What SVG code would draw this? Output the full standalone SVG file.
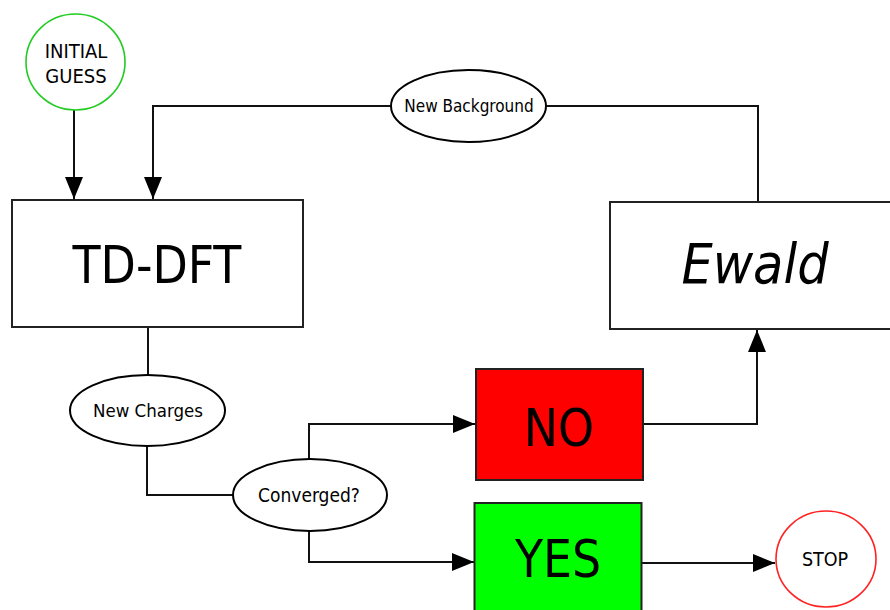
<svg xmlns="http://www.w3.org/2000/svg" width="890" height="610" viewBox="0 0 890 610">
<defs>
<style>
.t{font-family:"DejaVu Sans Condensed","DejaVu Sans",sans-serif;fill:#000;text-anchor:middle}
.s{font-size:17px}
.b{font-size:51px}
.box{stroke:#222;stroke-width:2}
.ell{fill:#fff;stroke:#000;stroke-width:2}
.c{fill:none;stroke:#111;stroke-width:2}
</style>
<marker id="ah" markerUnits="userSpaceOnUse" markerWidth="24" markerHeight="18" viewBox="0 0 24 18" refX="22" refY="9" orient="auto">
<path d="M0,0 L22,9 L0,18 Z" fill="#000"/>
</marker>
</defs>
<rect width="890" height="610" fill="#fff"/>
<g id="connectors">
<path class="c" d="M74,110 V199" marker-end="url(#ah)"/>
<path class="c" d="M391,106 H153 V199" marker-end="url(#ah)"/>
<path class="c" d="M546,106 H758 V201"/>
<path class="c" d="M148,327 V375"/>
<path class="c" d="M147,446 V495 H233"/>
<path class="c" d="M309,459 V424 H475" marker-end="url(#ah)"/>
<path class="c" d="M309,531 V562 H474" marker-end="url(#ah)"/>
<path class="c" d="M643,424 H757 V330" marker-end="url(#ah)"/>
<path class="c" d="M641,563 H775" marker-end="url(#ah)"/>
</g>
<g id="initial">
<ellipse cx="75.5" cy="62" rx="49.5" ry="48" fill="#fff" stroke="#22cc22" stroke-width="1.6"/>
<text class="t" x="76" y="58" font-size="20">INITIAL</text>
<text class="t" x="76" y="83" font-size="20">GUESS</text>
</g>
<g id="tddft">
<rect class="box" x="12" y="200" width="291" height="127" fill="#fff"/>
<text class="t b" x="157" y="283">TD-DFT</text>
</g>
<g id="newbg">
<ellipse class="ell" cx="468.5" cy="106" rx="77.5" ry="36"/>
<text class="t s" x="469" y="112">New Background</text>
</g>
<g id="ewald">
<rect class="box" x="610" y="202" width="290" height="127" fill="#fff"/>
<text class="t" x="755" y="283" font-size="55" font-style="italic">Ewald</text>
</g>
<g id="newcharges">
<ellipse class="ell" cx="147.5" cy="410.5" rx="77.5" ry="35.5"/>
<text class="t" x="148" y="417" font-size="18.5">New Charges</text>
</g>
<g id="converged">
<ellipse class="ell" cx="310" cy="495" rx="77" ry="36"/>
<text class="t" x="309" y="502" font-size="19">Converged?</text>
</g>
<g id="no">
<rect class="box" x="476" y="369" width="167" height="111" fill="#ff0000"/>
<text class="t b" x="559" y="446">NO</text>
</g>
<g id="yes">
<rect class="box" x="474.5" y="503" width="167" height="120" fill="#00ff00"/>
<text class="t b" x="558" y="577">YES</text>
</g>
<g id="stop">
<ellipse cx="826" cy="559" rx="50" ry="48" fill="#fff" stroke="#ff2222" stroke-width="1.6"/>
<text class="t" x="825" y="566" font-size="19.5">STOP</text>
</g>
</svg>
